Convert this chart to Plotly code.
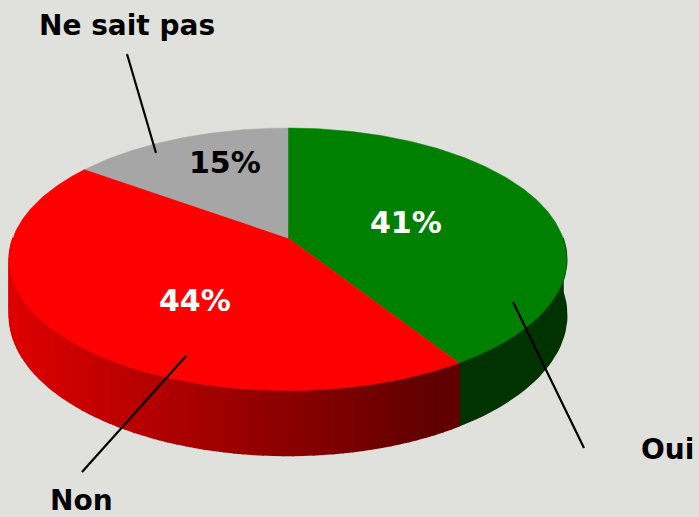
import numpy as np
import plotly.graph_objects as go

# Survey answers (percent)
categories = ["Oui", "Non", "Ne sait pas"]
values = [41, 44, 15]
pct_labels = [f"{v}%" for v in values]

# Styling
top_colors = ["#008000", "#ff0000", "#a6a6a6"]
label_colors = ["white", "white", "black"]
bg = "#e0e0dc"

W, H = 699, 517
# perspective disc: screen x = CX + A*cos/(1+K*sin), y = (P + Q*sin + D*dz)/(1+K*sin)
CX, A, K, P, Q, D = 288, 275.0, 0.163, 237.9, -89.0, 54.3


def proj(theta_deg, dz=0.0):
    t = np.radians(theta_deg)
    s = 1 + K * np.sin(t)
    return CX + A * np.cos(t) / s, (P + Q * np.sin(t) + D * dz) / s


def side_color(i, xmid):
    if i == 0:
        return "#003300"
    if i == 1:
        f = np.clip((xmid - 10) / (430 - 10), 0, 1)
        r = int(round(222 - f * 126))
        return f"rgb({r},0,0)"
    return "#7a7a7a"


fig = go.Figure()

# slice angle bounds: start at 12 o'clock, clockwise
cum = np.concatenate([[0], np.cumsum(values)]) / sum(values)
starts = 90 - 360 * cum[:-1]
ends = 90 - 360 * cum[1:]

# side walls (front half only, angles in [-180, 0])
for i in range(len(values)):
    a0, a1 = min(starts[i], 0), max(ends[i], -180)
    if a0 <= a1:
        continue
    n = 70 if i == 1 else 1
    edges = np.linspace(a0, a1, n + 1)
    for k in range(n):
        th = np.linspace(edges[k], edges[k + 1], 30)
        xt, yt = proj(th)
        xb, yb = proj(th[::-1], 1.0)
        xs = np.concatenate([xt, xb, xt[:1]])
        ys = np.concatenate([yt, yb, yt[:1]])
        col = side_color(i, float(np.mean(xt)))
        fig.add_trace(go.Scatter(x=xs, y=ys, mode="lines", fill="toself",
                                 fillcolor=col, line=dict(width=1.5, color=col),
                                 hoverinfo="skip", showlegend=False))

# top faces
for i in range(len(values)):
    th = np.linspace(starts[i], ends[i], 240)
    xa, ya = proj(th)
    xs = np.concatenate([[CX], xa, [CX]])
    ys = np.concatenate([[P], ya, [P]])
    fig.add_trace(go.Scatter(x=xs, y=ys, mode="lines", fill="toself",
                             fillcolor=top_colors[i],
                             line=dict(width=0.5, color=top_colors[i]),
                             hoverinfo="skip", showlegend=False,
                             name=categories[i]))

# percentage labels on the slices
pct_pos = [(406, 222), (195, 300), (225, 162)]
for i, (px, py) in enumerate(pct_pos):
    fig.add_annotation(x=px, y=py, text=f"<b>{pct_labels[i]}</b>",
                       showarrow=False,
                       font=dict(family="DejaVu Sans", size=30,
                                 color=label_colors[i]))

# category labels with leader lines
cat_pos = [(667, 449), (81, 500), (127, 25)]
leaders = [((513, 302), (584, 448)), ((186, 356), (82, 472)),
           ((156, 153), (127, 54))]
for i, (px, py) in enumerate(cat_pos):
    fig.add_annotation(x=px, y=py, text=f"<b>{categories[i]}</b>",
                       showarrow=False,
                       font=dict(family="DejaVu Sans", size=28, color="black"))
    (x0, y0), (x1, y1) = leaders[i]
    fig.add_shape(type="line", x0=x0, y0=y0, x1=x1, y1=y1,
                  line=dict(color="black", width=2.2))

fig.update_layout(
    width=W, height=H,
    margin=dict(l=0, r=0, t=0, b=0),
    paper_bgcolor=bg, plot_bgcolor=bg,
    xaxis=dict(range=[0, W], visible=False, fixedrange=True),
    yaxis=dict(range=[H, 0], visible=False, fixedrange=True),
    showlegend=False,
)

fig.write_html("out.html")
